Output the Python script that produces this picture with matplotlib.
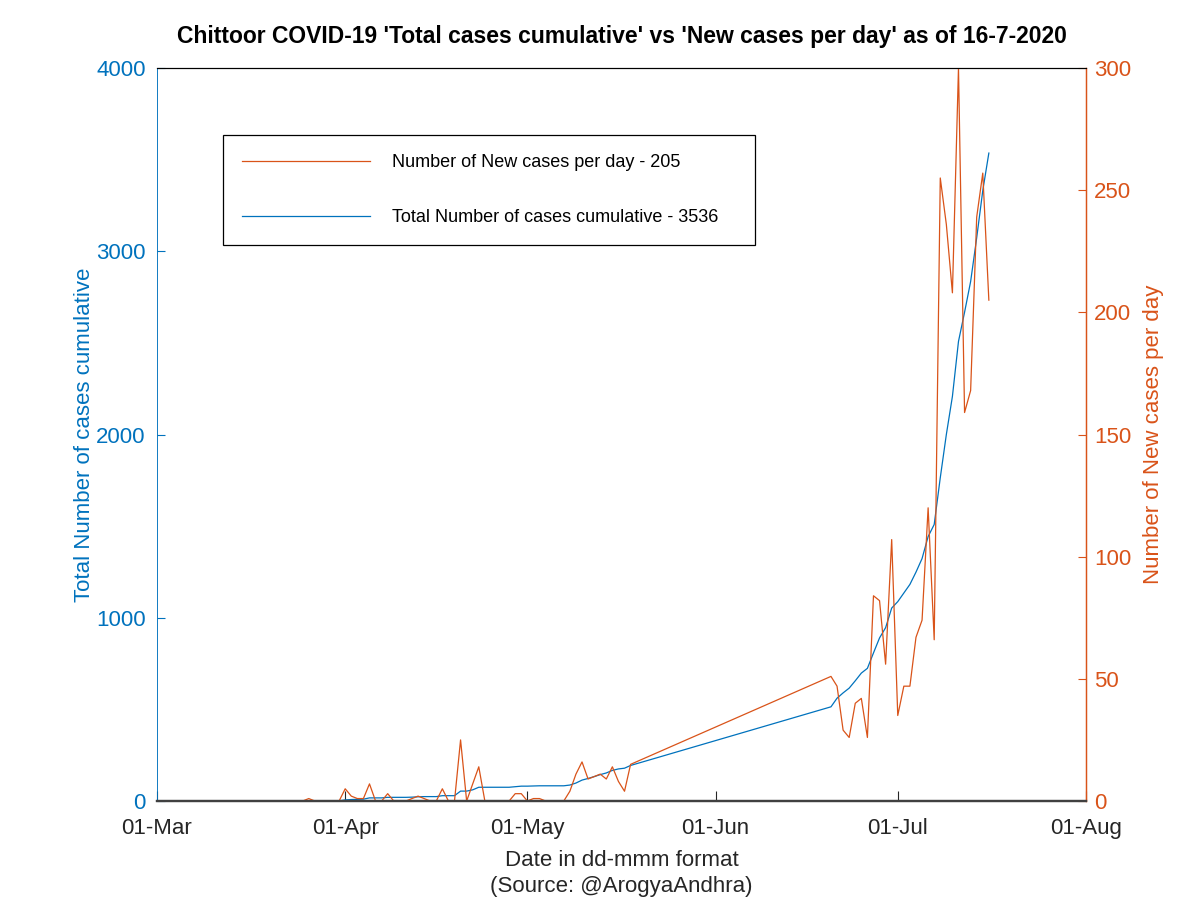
import matplotlib
matplotlib.use("Agg")
import matplotlib.pyplot as plt
import matplotlib.dates as mdates
import pandas as pd
from matplotlib.lines import Line2D

plt.rcParams['font.family'] = ['Liberation Sans', 'DejaVu Sans']

# ---- data ----
early_dates = pd.date_range('2020-03-24', '2020-05-18', freq='D')
late_dates = pd.date_range('2020-06-20', '2020-07-16', freq='D')

early_new = [0, 0, 1, 0, 0, 0, 0, 0, 5, 2, 1, 1, 7, 0, 0, 3, 0, 0, 0, 1,
             2, 1, 0, 0, 5, 0, 0, 25, 0, 7, 14, 0, 0, 0, 0, 0, 3, 3, 0, 1,
             1, 0, 0, 0, 0, 4, 11, 16, 9, 10, 11, 9, 14, 8, 4, 15]
early_total = [0, 0, 1, 1, 1, 1, 1, 1, 6, 8, 9, 10, 17, 17, 17, 20, 20, 20, 20, 21,
               23, 24, 24, 24, 29, 29, 29, 54, 54, 61, 75, 75, 75, 75, 75, 75, 78, 81, 81, 82,
               83, 83, 83, 83, 83, 87, 98, 114, 123, 133, 144, 153, 167, 175, 179, 194]

late_new = [51, 47, 29, 26, 40, 42, 26, 84, 82, 56, 107, 35, 47, 47, 67, 74,
            120, 66, 255, 236, 208, 300, 159, 168, 239, 257, 205]
late_total = [514, 561, 590, 616, 656, 698, 724, 808, 890, 946, 1053, 1088, 1135,
              1182, 1249, 1323, 1443, 1509, 1764, 2000, 2208, 2508, 2667, 2835,
              3074, 3331, 3536]

dates = list(early_dates) + list(late_dates)
new_cases = early_new + late_new
total_cases = early_total + late_total

xtick_dates = pd.to_datetime(['2020-03-01', '2020-04-01', '2020-05-01',
                              '2020-06-01', '2020-07-01', '2020-08-01'])
left_ticks = [0, 1000, 2000, 3000, 4000]
right_ticks = [0, 50, 100, 150, 200, 250, 300]

blue = '#0072BD'
orange = '#D95319'

fig = plt.figure(figsize=(12, 9), dpi=100)
ax = fig.add_axes([0.1308, 0.11, 0.7742, 0.8144])
ax2 = ax.twinx()

ax.plot(dates, total_cases, color=blue, lw=0.9)
ax2.plot(dates, new_cases, color=orange, lw=0.9)

ax.set_xlim(xtick_dates[0], xtick_dates[-1])
ax.set_ylim(0, 4000)
ax2.set_ylim(0, 300)
ax.set_xticks(xtick_dates)
ax.xaxis.set_major_formatter(mdates.DateFormatter('%d-%b'))
ax.set_yticks(left_ticks)
ax2.set_yticks(right_ticks)

ax.tick_params(axis='x', direction='in', length=7, labelsize=16, colors='#262626', pad=12)
ax.tick_params(axis='y', direction='in', length=6, labelsize=16, colors=blue, pad=8)
ax2.tick_params(axis='y', direction='in', length=6, labelsize=16, colors=orange, pad=6)

for a in (ax, ax2):
    a.spines['top'].set_color('black')
    a.spines['top'].set_linewidth(0.8)
    a.spines['bottom'].set_color('#404040')
    a.spines['bottom'].set_linewidth(1.6)
    a.spines['left'].set_color(blue)
    a.spines['left'].set_linewidth(0.5)
    a.spines['right'].set_color(orange)
    a.spines['right'].set_linewidth(0.9)

ax.set_ylabel('Total Number of cases cumulative', color=blue, fontsize=16, labelpad=1)
ax2.set_ylabel('Number of New cases per day', color=orange, fontsize=16, labelpad=8)
ax.set_xlabel('Date in dd-mmm format\n(Source: @ArogyaAndhra)', fontsize=16,
              color='#262626', labelpad=8, linespacing=1.3)
ax.set_title("Chittoor COVID-19 'Total cases cumulative' vs 'New cases per day' as of 16-7-2020",
             fontsize=16.5, fontweight='bold', pad=18)

handles = [Line2D([], [], color=orange, lw=0.9), Line2D([], [], color=blue, lw=0.9)]
labels = ['Number of New cases per day - %d' % new_cases[-1],
          'Total Number of cases cumulative - %d' % total_cases[-1]]
leg = ax2.legend(handles, labels, loc='upper left',
                 bbox_to_anchor=(0.071, 0.760, 0.573, 0.1486), mode='expand',
                 fontsize=13, handlelength=7.1, handletextpad=1.2,
                 labelspacing=2.1, borderpad=1.06, fancybox=False,
                 edgecolor='black', framealpha=1, borderaxespad=0)
leg.get_frame().set_linewidth(0.9)

fig.savefig('out.png', dpi=100)
